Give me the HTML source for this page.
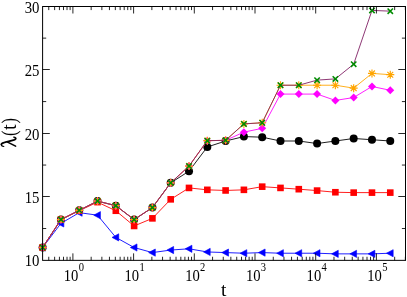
<!DOCTYPE html><html><head><meta charset="utf-8"><style>html,body{margin:0;padding:0;background:#fff}svg{display:block}text{font-family:"Liberation Serif",serif;fill:#000}</style></head><body>
<svg width="407" height="297" viewBox="0 0 407 297">
<rect width="407" height="297" fill="#fff"/>
<polyline points="42.64,247.52 60.93,219.62 79.23,210.37 97.53,201.11 115.82,205.68 134.12,219.62 152.42,207.58 170.71,182.85 189.01,171.19 207.31,146.97 225.60,141.01 243.90,136.57 262.20,137.20 280.49,141.01 298.79,141.01 317.09,143.54 335.38,141.01 353.68,138.47 371.98,139.74 390.27,141.01" fill="none" stroke="#000" stroke-width="0.88" stroke-linejoin="round"/>
<circle cx="42.64" cy="247.52" r="4.0" fill="#000"/>
<circle cx="60.93" cy="219.62" r="4.0" fill="#000"/>
<circle cx="79.23" cy="210.37" r="4.0" fill="#000"/>
<circle cx="97.53" cy="201.11" r="4.0" fill="#000"/>
<circle cx="115.82" cy="205.68" r="4.0" fill="#000"/>
<circle cx="134.12" cy="219.62" r="4.0" fill="#000"/>
<circle cx="152.42" cy="207.58" r="4.0" fill="#000"/>
<circle cx="170.71" cy="182.85" r="4.0" fill="#000"/>
<circle cx="189.01" cy="171.19" r="4.0" fill="#000"/>
<circle cx="207.31" cy="146.97" r="4.0" fill="#000"/>
<circle cx="225.60" cy="141.01" r="4.0" fill="#000"/>
<circle cx="243.90" cy="136.57" r="4.0" fill="#000"/>
<circle cx="262.20" cy="137.20" r="4.0" fill="#000"/>
<circle cx="280.49" cy="141.01" r="4.0" fill="#000"/>
<circle cx="298.79" cy="141.01" r="4.0" fill="#000"/>
<circle cx="317.09" cy="143.54" r="4.0" fill="#000"/>
<circle cx="335.38" cy="141.01" r="4.0" fill="#000"/>
<circle cx="353.68" cy="138.47" r="4.0" fill="#000"/>
<circle cx="371.98" cy="139.74" r="4.0" fill="#000"/>
<circle cx="390.27" cy="141.01" r="4.0" fill="#000"/>
<polyline points="42.64,247.52 60.93,223.43 79.23,212.65 97.53,215.19 115.82,237.38 134.12,247.52 152.42,252.59 170.71,250.06 189.01,248.79 207.31,251.96 225.60,252.59 243.90,253.23 262.20,252.59 280.49,253.23 298.79,253.23 317.09,253.23 335.38,253.86 353.68,253.86 371.98,253.86 390.27,253.23" fill="none" stroke="#0000ff" stroke-width="0.88" stroke-linejoin="round"/>
<path d="M38.84,247.52 L45.54,243.92 L45.54,251.12 Z" fill="#0000ff" stroke="#0000ff" stroke-width="0.6"/>
<path d="M57.13,223.43 L63.83,219.83 L63.83,227.03 Z" fill="#0000ff" stroke="#0000ff" stroke-width="0.6"/>
<path d="M75.43,212.65 L82.13,209.05 L82.13,216.25 Z" fill="#0000ff" stroke="#0000ff" stroke-width="0.6"/>
<path d="M93.73,215.19 L100.43,211.59 L100.43,218.79 Z" fill="#0000ff" stroke="#0000ff" stroke-width="0.6"/>
<path d="M112.02,237.38 L118.72,233.78 L118.72,240.98 Z" fill="#0000ff" stroke="#0000ff" stroke-width="0.6"/>
<path d="M130.32,247.52 L137.02,243.92 L137.02,251.12 Z" fill="#0000ff" stroke="#0000ff" stroke-width="0.6"/>
<path d="M148.62,252.59 L155.32,248.99 L155.32,256.19 Z" fill="#0000ff" stroke="#0000ff" stroke-width="0.6"/>
<path d="M166.91,250.06 L173.61,246.46 L173.61,253.66 Z" fill="#0000ff" stroke="#0000ff" stroke-width="0.6"/>
<path d="M185.21,248.79 L191.91,245.19 L191.91,252.39 Z" fill="#0000ff" stroke="#0000ff" stroke-width="0.6"/>
<path d="M203.51,251.96 L210.21,248.36 L210.21,255.56 Z" fill="#0000ff" stroke="#0000ff" stroke-width="0.6"/>
<path d="M221.80,252.59 L228.50,248.99 L228.50,256.19 Z" fill="#0000ff" stroke="#0000ff" stroke-width="0.6"/>
<path d="M240.10,253.23 L246.80,249.63 L246.80,256.83 Z" fill="#0000ff" stroke="#0000ff" stroke-width="0.6"/>
<path d="M258.40,252.59 L265.10,248.99 L265.10,256.19 Z" fill="#0000ff" stroke="#0000ff" stroke-width="0.6"/>
<path d="M276.69,253.23 L283.39,249.63 L283.39,256.83 Z" fill="#0000ff" stroke="#0000ff" stroke-width="0.6"/>
<path d="M294.99,253.23 L301.69,249.63 L301.69,256.83 Z" fill="#0000ff" stroke="#0000ff" stroke-width="0.6"/>
<path d="M313.29,253.23 L319.99,249.63 L319.99,256.83 Z" fill="#0000ff" stroke="#0000ff" stroke-width="0.6"/>
<path d="M331.58,253.86 L338.28,250.26 L338.28,257.46 Z" fill="#0000ff" stroke="#0000ff" stroke-width="0.6"/>
<path d="M349.88,253.86 L356.58,250.26 L356.58,257.46 Z" fill="#0000ff" stroke="#0000ff" stroke-width="0.6"/>
<path d="M368.18,253.86 L374.88,250.26 L374.88,257.46 Z" fill="#0000ff" stroke="#0000ff" stroke-width="0.6"/>
<path d="M386.47,253.23 L393.17,249.63 L393.17,256.83 Z" fill="#0000ff" stroke="#0000ff" stroke-width="0.6"/>
<polyline points="42.64,247.52 60.93,219.62 79.23,210.62 97.53,202.13 115.82,210.75 134.12,225.96 152.42,218.36 170.71,199.34 189.01,187.92 207.31,189.83 225.60,190.46 243.90,189.83 262.20,186.66 280.49,187.92 298.79,189.19 317.09,190.59 335.38,192.24 353.68,192.62 371.98,192.62 390.27,192.62" fill="none" stroke="#ff0000" stroke-width="0.88" stroke-linejoin="round"/>
<rect x="39.34" y="244.22" width="6.6" height="6.6" fill="#ff0000"/>
<rect x="57.63" y="216.32" width="6.6" height="6.6" fill="#ff0000"/>
<rect x="75.93" y="207.32" width="6.6" height="6.6" fill="#ff0000"/>
<rect x="94.23" y="198.83" width="6.6" height="6.6" fill="#ff0000"/>
<rect x="112.52" y="207.45" width="6.6" height="6.6" fill="#ff0000"/>
<rect x="130.82" y="222.66" width="6.6" height="6.6" fill="#ff0000"/>
<rect x="149.12" y="215.06" width="6.6" height="6.6" fill="#ff0000"/>
<rect x="167.41" y="196.04" width="6.6" height="6.6" fill="#ff0000"/>
<rect x="185.71" y="184.62" width="6.6" height="6.6" fill="#ff0000"/>
<rect x="204.01" y="186.53" width="6.6" height="6.6" fill="#ff0000"/>
<rect x="222.30" y="187.16" width="6.6" height="6.6" fill="#ff0000"/>
<rect x="240.60" y="186.53" width="6.6" height="6.6" fill="#ff0000"/>
<rect x="258.90" y="183.36" width="6.6" height="6.6" fill="#ff0000"/>
<rect x="277.19" y="184.62" width="6.6" height="6.6" fill="#ff0000"/>
<rect x="295.49" y="185.89" width="6.6" height="6.6" fill="#ff0000"/>
<rect x="313.79" y="187.29" width="6.6" height="6.6" fill="#ff0000"/>
<rect x="332.08" y="188.94" width="6.6" height="6.6" fill="#ff0000"/>
<rect x="350.38" y="189.32" width="6.6" height="6.6" fill="#ff0000"/>
<rect x="368.68" y="189.32" width="6.6" height="6.6" fill="#ff0000"/>
<rect x="386.97" y="189.32" width="6.6" height="6.6" fill="#ff0000"/>
<polyline points="42.64,247.52 60.93,219.62 79.23,210.37 97.53,201.11 115.82,205.68 134.12,219.62 152.42,207.58 170.71,182.85 189.01,166.11 207.31,140.63 225.60,140.37 243.90,132.13 262.20,128.33 280.49,94.09 298.79,94.09 317.09,94.09 335.38,100.43 353.68,97.52 371.98,86.48 390.27,90.29" fill="none" stroke="#ff00ff" stroke-width="0.88" stroke-linejoin="round"/>
<path d="M38.64,247.52 L42.64,243.52 L46.64,247.52 L42.64,251.52 Z" fill="#ff00ff"/>
<path d="M56.93,219.62 L60.93,215.62 L64.93,219.62 L60.93,223.62 Z" fill="#ff00ff"/>
<path d="M75.23,210.37 L79.23,206.37 L83.23,210.37 L79.23,214.37 Z" fill="#ff00ff"/>
<path d="M93.53,201.11 L97.53,197.11 L101.53,201.11 L97.53,205.11 Z" fill="#ff00ff"/>
<path d="M111.82,205.68 L115.82,201.68 L119.82,205.68 L115.82,209.68 Z" fill="#ff00ff"/>
<path d="M130.12,219.62 L134.12,215.62 L138.12,219.62 L134.12,223.62 Z" fill="#ff00ff"/>
<path d="M148.42,207.58 L152.42,203.58 L156.42,207.58 L152.42,211.58 Z" fill="#ff00ff"/>
<path d="M166.71,182.85 L170.71,178.85 L174.71,182.85 L170.71,186.85 Z" fill="#ff00ff"/>
<path d="M185.01,166.11 L189.01,162.11 L193.01,166.11 L189.01,170.11 Z" fill="#ff00ff"/>
<path d="M203.31,140.63 L207.31,136.63 L211.31,140.63 L207.31,144.63 Z" fill="#ff00ff"/>
<path d="M221.60,140.37 L225.60,136.37 L229.60,140.37 L225.60,144.37 Z" fill="#ff00ff"/>
<path d="M239.90,132.13 L243.90,128.13 L247.90,132.13 L243.90,136.13 Z" fill="#ff00ff"/>
<path d="M258.20,128.33 L262.20,124.33 L266.20,128.33 L262.20,132.33 Z" fill="#ff00ff"/>
<path d="M276.49,94.09 L280.49,90.09 L284.49,94.09 L280.49,98.09 Z" fill="#ff00ff"/>
<path d="M294.79,94.09 L298.79,90.09 L302.79,94.09 L298.79,98.09 Z" fill="#ff00ff"/>
<path d="M313.09,94.09 L317.09,90.09 L321.09,94.09 L317.09,98.09 Z" fill="#ff00ff"/>
<path d="M331.38,100.43 L335.38,96.43 L339.38,100.43 L335.38,104.43 Z" fill="#ff00ff"/>
<path d="M349.68,97.52 L353.68,93.52 L357.68,97.52 L353.68,101.52 Z" fill="#ff00ff"/>
<path d="M367.98,86.48 L371.98,82.48 L375.98,86.48 L371.98,90.48 Z" fill="#ff00ff"/>
<path d="M386.27,90.29 L390.27,86.29 L394.27,90.29 L390.27,94.29 Z" fill="#ff00ff"/>
<polyline points="42.64,247.52 60.93,219.62 79.23,210.37 97.53,201.11 115.82,205.68 134.12,219.62 152.42,207.58 170.71,182.85 189.01,166.11 207.31,140.63 225.60,140.37 243.90,123.89 262.20,122.75 280.49,85.22 298.79,85.22 317.09,85.22 335.38,85.22 353.68,88.13 371.98,73.42 390.27,74.69" fill="none" stroke="#ffa500" stroke-width="0.88" stroke-linejoin="round"/>
<path d="M38.64,247.52 H46.64 M42.64,243.52 V251.52 M39.74,244.62 L45.54,250.42 M39.74,250.42 L45.54,244.62" stroke="#ffa500" stroke-width="1.15" fill="none"/>
<path d="M56.93,219.62 H64.93 M60.93,215.62 V223.62 M58.03,216.72 L63.83,222.52 M58.03,222.52 L63.83,216.72" stroke="#ffa500" stroke-width="1.15" fill="none"/>
<path d="M75.23,210.37 H83.23 M79.23,206.37 V214.37 M76.33,207.47 L82.13,213.27 M76.33,213.27 L82.13,207.47" stroke="#ffa500" stroke-width="1.15" fill="none"/>
<path d="M93.53,201.11 H101.53 M97.53,197.11 V205.11 M94.63,198.21 L100.43,204.01 M94.63,204.01 L100.43,198.21" stroke="#ffa500" stroke-width="1.15" fill="none"/>
<path d="M111.82,205.68 H119.82 M115.82,201.68 V209.68 M112.92,202.78 L118.72,208.58 M112.92,208.58 L118.72,202.78" stroke="#ffa500" stroke-width="1.15" fill="none"/>
<path d="M130.12,219.62 H138.12 M134.12,215.62 V223.62 M131.22,216.72 L137.02,222.52 M131.22,222.52 L137.02,216.72" stroke="#ffa500" stroke-width="1.15" fill="none"/>
<path d="M148.42,207.58 H156.42 M152.42,203.58 V211.58 M149.52,204.68 L155.32,210.48 M149.52,210.48 L155.32,204.68" stroke="#ffa500" stroke-width="1.15" fill="none"/>
<path d="M166.71,182.85 H174.71 M170.71,178.85 V186.85 M167.81,179.95 L173.61,185.75 M167.81,185.75 L173.61,179.95" stroke="#ffa500" stroke-width="1.15" fill="none"/>
<path d="M185.01,166.11 H193.01 M189.01,162.11 V170.11 M186.11,163.21 L191.91,169.01 M186.11,169.01 L191.91,163.21" stroke="#ffa500" stroke-width="1.15" fill="none"/>
<path d="M203.31,140.63 H211.31 M207.31,136.63 V144.63 M204.41,137.73 L210.21,143.53 M204.41,143.53 L210.21,137.73" stroke="#ffa500" stroke-width="1.15" fill="none"/>
<path d="M221.60,140.37 H229.60 M225.60,136.37 V144.37 M222.70,137.47 L228.50,143.27 M222.70,143.27 L228.50,137.47" stroke="#ffa500" stroke-width="1.15" fill="none"/>
<path d="M239.90,123.89 H247.90 M243.90,119.89 V127.89 M241.00,120.99 L246.80,126.79 M241.00,126.79 L246.80,120.99" stroke="#ffa500" stroke-width="1.15" fill="none"/>
<path d="M258.20,122.75 H266.20 M262.20,118.75 V126.75 M259.30,119.85 L265.10,125.65 M259.30,125.65 L265.10,119.85" stroke="#ffa500" stroke-width="1.15" fill="none"/>
<path d="M276.49,85.22 H284.49 M280.49,81.22 V89.22 M277.59,82.32 L283.39,88.12 M277.59,88.12 L283.39,82.32" stroke="#ffa500" stroke-width="1.15" fill="none"/>
<path d="M294.79,85.22 H302.79 M298.79,81.22 V89.22 M295.89,82.32 L301.69,88.12 M295.89,88.12 L301.69,82.32" stroke="#ffa500" stroke-width="1.15" fill="none"/>
<path d="M313.09,85.22 H321.09 M317.09,81.22 V89.22 M314.19,82.32 L319.99,88.12 M314.19,88.12 L319.99,82.32" stroke="#ffa500" stroke-width="1.15" fill="none"/>
<path d="M331.38,85.22 H339.38 M335.38,81.22 V89.22 M332.48,82.32 L338.28,88.12 M332.48,88.12 L338.28,82.32" stroke="#ffa500" stroke-width="1.15" fill="none"/>
<path d="M349.68,88.13 H357.68 M353.68,84.13 V92.13 M350.78,85.23 L356.58,91.03 M350.78,91.03 L356.58,85.23" stroke="#ffa500" stroke-width="1.15" fill="none"/>
<path d="M367.98,73.42 H375.98 M371.98,69.42 V77.42 M369.08,70.52 L374.88,76.32 M369.08,76.32 L374.88,70.52" stroke="#ffa500" stroke-width="1.15" fill="none"/>
<path d="M386.27,74.69 H394.27 M390.27,70.69 V78.69 M387.37,71.79 L393.17,77.59 M387.37,77.59 L393.17,71.79" stroke="#ffa500" stroke-width="1.15" fill="none"/>
<polyline points="42.64,247.52 60.93,219.62 79.23,210.37 97.53,201.11 115.82,205.68 134.12,219.62 152.42,207.58 170.71,182.85 189.01,166.11 207.31,140.63 225.60,140.37 243.90,123.89 262.20,122.75 280.49,85.22 298.79,85.22 317.09,80.14 335.38,78.88 353.68,64.17 371.98,10.40 390.27,11.16" fill="none" stroke="#7e1c62" stroke-width="0.88" stroke-linejoin="round"/>
<path d="M39.94,244.82 L45.34,250.22 M39.94,250.22 L45.34,244.82" stroke="#008b00" stroke-width="1.55" fill="none"/>
<path d="M58.23,216.92 L63.63,222.32 M58.23,222.32 L63.63,216.92" stroke="#008b00" stroke-width="1.55" fill="none"/>
<path d="M76.53,207.67 L81.93,213.07 M76.53,213.07 L81.93,207.67" stroke="#008b00" stroke-width="1.55" fill="none"/>
<path d="M94.83,198.41 L100.23,203.81 M94.83,203.81 L100.23,198.41" stroke="#008b00" stroke-width="1.55" fill="none"/>
<path d="M113.12,202.98 L118.52,208.38 M113.12,208.38 L118.52,202.98" stroke="#008b00" stroke-width="1.55" fill="none"/>
<path d="M131.42,216.92 L136.82,222.32 M131.42,222.32 L136.82,216.92" stroke="#008b00" stroke-width="1.55" fill="none"/>
<path d="M149.72,204.88 L155.12,210.28 M149.72,210.28 L155.12,204.88" stroke="#008b00" stroke-width="1.55" fill="none"/>
<path d="M168.01,180.15 L173.41,185.55 M168.01,185.55 L173.41,180.15" stroke="#008b00" stroke-width="1.55" fill="none"/>
<path d="M186.31,163.41 L191.71,168.81 M186.31,168.81 L191.71,163.41" stroke="#008b00" stroke-width="1.55" fill="none"/>
<path d="M204.61,137.93 L210.01,143.33 M204.61,143.33 L210.01,137.93" stroke="#008b00" stroke-width="1.55" fill="none"/>
<path d="M222.90,137.67 L228.30,143.07 M222.90,143.07 L228.30,137.67" stroke="#008b00" stroke-width="1.55" fill="none"/>
<path d="M241.20,121.19 L246.60,126.59 M241.20,126.59 L246.60,121.19" stroke="#008b00" stroke-width="1.55" fill="none"/>
<path d="M259.50,120.05 L264.90,125.45 M259.50,125.45 L264.90,120.05" stroke="#008b00" stroke-width="1.55" fill="none"/>
<path d="M277.79,82.52 L283.19,87.92 M277.79,87.92 L283.19,82.52" stroke="#008b00" stroke-width="1.55" fill="none"/>
<path d="M296.09,82.52 L301.49,87.92 M296.09,87.92 L301.49,82.52" stroke="#008b00" stroke-width="1.55" fill="none"/>
<path d="M314.39,77.44 L319.79,82.84 M314.39,82.84 L319.79,77.44" stroke="#008b00" stroke-width="1.55" fill="none"/>
<path d="M332.68,76.18 L338.08,81.58 M332.68,81.58 L338.08,76.18" stroke="#008b00" stroke-width="1.55" fill="none"/>
<path d="M350.98,61.47 L356.38,66.87 M350.98,66.87 L356.38,61.47" stroke="#008b00" stroke-width="1.55" fill="none"/>
<path d="M369.28,7.70 L374.68,13.10 M369.28,13.10 L374.68,7.70" stroke="#008b00" stroke-width="1.55" fill="none"/>
<path d="M387.57,8.46 L392.97,13.86 M387.57,13.86 L392.97,8.46" stroke="#008b00" stroke-width="1.55" fill="none"/>
<rect x="42.6" y="6.5" width="362.9" height="253.85000000000002" fill="none" stroke="#000" stroke-width="1.0"/>
<path d="M48.75,260.35 v-3.6 M48.75,6.5 v3.6 M54.63,260.35 v-3.6 M54.63,6.5 v3.6 M59.43,260.35 v-3.6 M59.43,6.5 v3.6 M63.50,260.35 v-3.6 M63.50,6.5 v3.6 M67.02,260.35 v-3.6 M67.02,6.5 v3.6 M70.12,260.35 v-3.6 M70.12,6.5 v3.6 M72.90,260.35 v-7 M72.90,6.5 v7 M91.17,260.35 v-3.6 M91.17,6.5 v3.6 M101.86,260.35 v-3.6 M101.86,6.5 v3.6 M109.45,260.35 v-3.6 M109.45,6.5 v3.6 M115.33,260.35 v-3.6 M115.33,6.5 v3.6 M120.13,260.35 v-3.6 M120.13,6.5 v3.6 M124.20,260.35 v-3.6 M124.20,6.5 v3.6 M127.72,260.35 v-3.6 M127.72,6.5 v3.6 M130.82,260.35 v-3.6 M130.82,6.5 v3.6 M133.60,260.35 v-7 M133.60,6.5 v7 M151.87,260.35 v-3.6 M151.87,6.5 v3.6 M162.56,260.35 v-3.6 M162.56,6.5 v3.6 M170.15,260.35 v-3.6 M170.15,6.5 v3.6 M176.03,260.35 v-3.6 M176.03,6.5 v3.6 M180.83,260.35 v-3.6 M180.83,6.5 v3.6 M184.90,260.35 v-3.6 M184.90,6.5 v3.6 M188.42,260.35 v-3.6 M188.42,6.5 v3.6 M191.52,260.35 v-3.6 M191.52,6.5 v3.6 M194.30,260.35 v-7 M194.30,6.5 v7 M212.57,260.35 v-3.6 M212.57,6.5 v3.6 M223.26,260.35 v-3.6 M223.26,6.5 v3.6 M230.85,260.35 v-3.6 M230.85,6.5 v3.6 M236.73,260.35 v-3.6 M236.73,6.5 v3.6 M241.53,260.35 v-3.6 M241.53,6.5 v3.6 M245.60,260.35 v-3.6 M245.60,6.5 v3.6 M249.12,260.35 v-3.6 M249.12,6.5 v3.6 M252.22,260.35 v-3.6 M252.22,6.5 v3.6 M255.00,260.35 v-7 M255.00,6.5 v7 M273.27,260.35 v-3.6 M273.27,6.5 v3.6 M283.96,260.35 v-3.6 M283.96,6.5 v3.6 M291.55,260.35 v-3.6 M291.55,6.5 v3.6 M297.43,260.35 v-3.6 M297.43,6.5 v3.6 M302.23,260.35 v-3.6 M302.23,6.5 v3.6 M306.30,260.35 v-3.6 M306.30,6.5 v3.6 M309.82,260.35 v-3.6 M309.82,6.5 v3.6 M312.92,260.35 v-3.6 M312.92,6.5 v3.6 M315.70,260.35 v-7 M315.70,6.5 v7 M333.97,260.35 v-3.6 M333.97,6.5 v3.6 M344.66,260.35 v-3.6 M344.66,6.5 v3.6 M352.25,260.35 v-3.6 M352.25,6.5 v3.6 M358.13,260.35 v-3.6 M358.13,6.5 v3.6 M362.93,260.35 v-3.6 M362.93,6.5 v3.6 M367.00,260.35 v-3.6 M367.00,6.5 v3.6 M370.52,260.35 v-3.6 M370.52,6.5 v3.6 M373.62,260.35 v-3.6 M373.62,6.5 v3.6 M376.40,260.35 v-7 M376.40,6.5 v7 M394.67,260.35 v-3.6 M394.67,6.5 v3.6 M405.36,260.35 v-3.6 M405.36,6.5 v3.6 M42.6,228.52 h3.6 M405.5,228.52 h-3.6 M42.6,196.50 h7.2 M405.5,196.50 h-7.2 M42.6,165.06 h3.6 M405.5,165.06 h-3.6 M42.6,133.50 h7.2 M405.5,133.50 h-7.2 M42.6,101.59 h3.6 M405.5,101.59 h-3.6 M42.6,69.50 h7.2 M405.5,69.50 h-7.2 M42.6,38.13 h3.6 M405.5,38.13 h-3.6" stroke="#000" stroke-width="0.85" fill="none"/>
<defs><filter id="gs" x="0" y="0" width="100%" height="100%" filterUnits="userSpaceOnUse" color-interpolation-filters="sRGB"><feColorMatrix type="saturate" values="0"/></filter></defs><g filter="url(#gs)">
<text transform="translate(39.4,266.35) scale(0.88,1)" font-size="16.8" text-anchor="end">10</text>
<text transform="translate(39.4,202.50) scale(0.88,1)" font-size="16.8" text-anchor="end">15</text>
<text transform="translate(39.4,139.50) scale(0.88,1)" font-size="16.8" text-anchor="end">20</text>
<text transform="translate(39.4,75.50) scale(0.88,1)" font-size="16.8" text-anchor="end">25</text>
<text transform="translate(39.4,12.50) scale(0.88,1)" font-size="16.8" text-anchor="end">30</text>
<text transform="translate(78.40,280.9) scale(0.87,1)" font-size="16.8" text-anchor="end">10</text>
<text transform="translate(78.70,271.2) scale(0.88,1)" font-size="12">0</text>
<text transform="translate(139.10,280.9) scale(0.87,1)" font-size="16.8" text-anchor="end">10</text>
<text transform="translate(139.40,271.2) scale(0.88,1)" font-size="12">1</text>
<text transform="translate(199.80,280.9) scale(0.87,1)" font-size="16.8" text-anchor="end">10</text>
<text transform="translate(200.10,271.2) scale(0.88,1)" font-size="12">2</text>
<text transform="translate(260.50,280.9) scale(0.87,1)" font-size="16.8" text-anchor="end">10</text>
<text transform="translate(260.80,271.2) scale(0.88,1)" font-size="12">3</text>
<text transform="translate(321.20,280.9) scale(0.87,1)" font-size="16.8" text-anchor="end">10</text>
<text transform="translate(321.50,271.2) scale(0.88,1)" font-size="12">4</text>
<text transform="translate(381.90,280.9) scale(0.87,1)" font-size="16.8" text-anchor="end">10</text>
<text transform="translate(382.20,271.2) scale(0.88,1)" font-size="12">5</text>
<text x="223.6" y="296" font-size="19.5" text-anchor="middle">t</text>
<g font-size="20.5" style="font-family:'Liberation Sans',sans-serif"><text transform="translate(16,136.0) rotate(-90) scale(0.8,1)">(</text><text transform="translate(16,129.9) rotate(-90)">t</text><text transform="translate(16,123.6) rotate(-90) scale(0.8,1)">)</text></g>
<g transform="translate(16.2,147.3) rotate(-90) scale(0.93,-1)" fill="none" stroke="#000" stroke-linecap="round" stroke-linejoin="round"><path d="M0.9,12.4 C1.0,14.2 2.0,15.2 3.3,14.8" stroke-width="1.2"/><path d="M3.3,14.8 C4.6,14.3 5.2,12.0 5.9,9.5 L7.8,2.8 C8.3,0.9 9.0,0.4 9.8,0.6" stroke-width="1.9"/><path d="M9.8,0.6 C10.5,0.9 10.9,1.6 10.9,2.5" stroke-width="1.2"/><path d="M5.5,8.6 L1.2,0.6" stroke-width="1.6"/></g>
</g>
</svg></body></html>
